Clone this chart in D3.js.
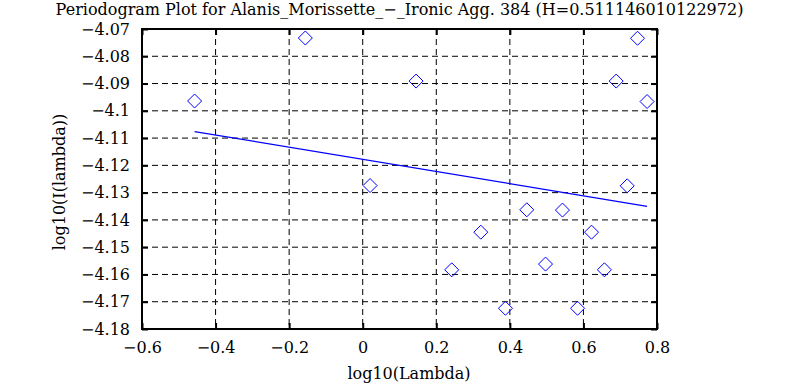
<!DOCTYPE html>
<html>
<head>
<meta charset="utf-8">
<script src="https://cdn.jsdelivr.net/npm/d3@7"></script>
<style>
  html, body { margin: 0; padding: 0; background: #fff; }
  svg text { font-family: 'DejaVu Serif', serif; }
</style>
</head>
<body>
<div id="chart"></div>
<script>
// periodogram points: log10(lambda) vs log10(I(lambda))
const logLambda = [-0.457, -0.156, 0.020, 0.145, 0.242, 0.321, 0.388, 0.446, 0.497,
  0.543, 0.584, 0.622, 0.657, 0.689, 0.719, 0.747, 0.773];
const logI = [-4.0964, -4.0733, -4.1274, -4.0891, -4.1583, -4.1445, -4.1724, -4.1363, -4.1562,
  -4.1364, -4.1724, -4.1445, -4.1583, -4.0891, -4.1275, -4.0734, -4.0966];

// least squares fit line endpoints
const fitX = [-0.457, 0.773];
const fitY = [-4.1076, -4.1350];

const xTicks = [-0.6, -0.4, -0.2, 0, 0.2, 0.4, 0.6, 0.8];
const yTicks = [-4.07, -4.08, -4.09, -4.1, -4.11, -4.12, -4.13, -4.14, -4.15, -4.16, -4.17, -4.18];

const title = 'Periodogram Plot for Alanis_Morissette_\u2212_Ironic Agg. 384 (H=0.511146010122972)';

const width = 800,
  height = 385,
  margin = {top: 29, right: 143, bottom: 56, left: 142};

const x = d3.scaleLinear()
  .domain([-0.6, 0.8])
  .range([margin.left, width - margin.right]);
const y = d3.scaleLinear()
  .domain([-4.18, -4.07])
  .range([height - margin.bottom, margin.top]);

const fmt = d => String(d).replace('-', '\u2212');

const svg = d3.select('#chart').append('svg')
  .attr('width', width)
  .attr('height', height)
  .attr('viewBox', [0, 0, width, height]);

// dashed grid
svg.append('g')
  .selectAll('line')
  .data(xTicks.slice(1, -1))
  .join('line')
  .attr('x1', d => x(d)).attr('x2', d => x(d))
  .attr('y1', margin.top).attr('y2', height - margin.bottom)
  .attr('stroke', '#000')
  .attr('stroke-dasharray', '6,4');

svg.append('g')
  .selectAll('line')
  .data(yTicks.slice(1, -1))
  .join('line')
  .attr('x1', margin.left).attr('x2', width - margin.right)
  .attr('y1', d => y(d)).attr('y2', d => y(d))
  .attr('stroke', '#000')
  .attr('stroke-dasharray', '6,4');

// axes, ticks point inward
svg.append('g')
  .attr('transform', `translate(0,${height - margin.bottom})`)
  .call(d3.axisBottom(x).tickValues(xTicks).tickSize(-6).tickPadding(13).tickFormat(fmt).tickSizeOuter(0))
  .call(g => g.select('.domain').remove());
svg.append('g')
  .attr('transform', `translate(0,${margin.top})`)
  .call(d3.axisTop(x).tickValues(xTicks).tickSize(-6).tickFormat('').tickSizeOuter(0))
  .call(g => g.select('.domain').remove());
svg.append('g')
  .attr('transform', `translate(${margin.left},0)`)
  .call(d3.axisLeft(y).tickValues(yTicks).tickSize(-6).tickPadding(12).tickFormat(fmt).tickSizeOuter(0))
  .call(g => g.select('.domain').remove());
svg.append('g')
  .attr('transform', `translate(${width - margin.right},0)`)
  .call(d3.axisRight(y).tickValues(yTicks).tickSize(-6).tickFormat('').tickSizeOuter(0))
  .call(g => g.select('.domain').remove());

svg.selectAll('.tick line').attr('stroke-width', 2);
svg.selectAll('.tick text')
  .attr('font-size', 16)
  .attr('fill', '#000');

// frame
svg.append('rect')
  .attr('x', margin.left).attr('y', margin.top)
  .attr('width', width - margin.left - margin.right)
  .attr('height', height - margin.top - margin.bottom)
  .attr('fill', 'none')
  .attr('stroke', '#000')
  .attr('stroke-width', 2);

// fit line
svg.append('line')
  .attr('x1', x(fitX[0])).attr('y1', y(fitY[0]))
  .attr('x2', x(fitX[1])).attr('y2', y(fitY[1]))
  .attr('stroke', '#0000ff')
  .attr('stroke-width', 1.3);

// diamonds
const r = 7;
svg.append('g')
  .selectAll('path')
  .data(logLambda)
  .join('path')
  .attr('transform', (d, i) => `translate(${x(d)},${y(logI[i])})`)
  .attr('d', `M0,${-r}L${r},0L0,${r}L${-r},0Z`)
  .attr('fill', 'none')
  .attr('stroke', '#0000ff')
  .attr('stroke-width', 1);

svg.append('text')
  .attr('x', (margin.left + width - margin.right) / 2)
  .attr('y', 15)
  .attr('text-anchor', 'middle')
  .attr('font-size', 16)
  .text(title);

svg.append('text')
  .attr('x', 409)
  .attr('y', 379)
  .attr('text-anchor', 'middle')
  .attr('font-size', 16)
  .text('log10(Lambda)');

svg.append('text')
  .attr('transform', `translate(65,${(margin.top + height - margin.bottom) / 2 + 3}) rotate(-90)`)
  .attr('text-anchor', 'middle')
  .attr('font-size', 16)
  .text('log10(I(lambda))');
</script>
</body>
</html>
